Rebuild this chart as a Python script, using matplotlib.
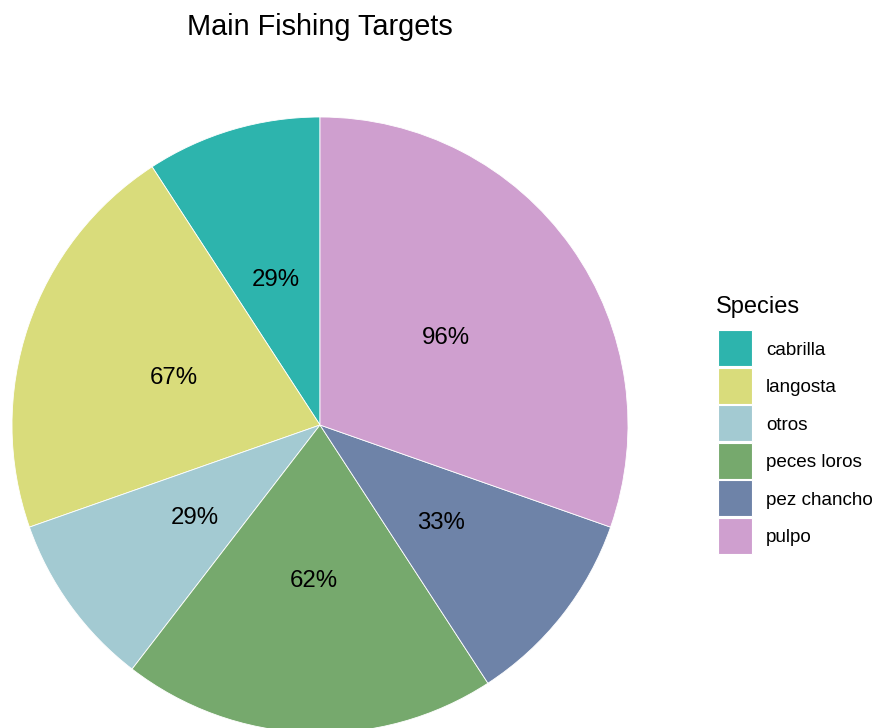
import matplotlib
matplotlib.use("Agg")
import matplotlib.pyplot as plt
from matplotlib.patches import Rectangle

species = ["cabrilla", "langosta", "otros", "peces loros", "pez chancho", "pulpo"]
percent = [29, 67, 29, 62, 33, 96]
colors = ["#2DB4AD", "#D9DC7B", "#A3CAD2", "#76A96D", "#6E83A8", "#CF9FCF"]

plt.rcParams["font.family"] = ["Liberation Sans", "DejaVu Sans"]

W, H = 876, 728
fig = plt.figure(figsize=(W / 100, H / 100), dpi=100)

# pie centre and radius in pixels
cx, cy, r = 320, 425, 308
ax = fig.add_axes([(cx - r) / W, (H - cy - r) / H, 2 * r / W, 2 * r / H])
wedges, texts = ax.pie(
    percent,
    colors=colors,
    startangle=90,
    counterclock=True,
    radius=1,
    labels=[f"{p}%" for p in percent],
    labeldistance=0.5,
    wedgeprops=dict(edgecolor="white", linewidth=0.6),
    textprops=dict(fontsize=17.3, color="black", ha="center", va="center_baseline"),
)
for w in wedges:
    w.set_clip_on(False)
ax.set_xlim(-1, 1)
ax.set_ylim(-1, 1)
ax.set_aspect("equal")
ax.axis("off")

fig.text(cx / W, 1 - 27 / H, "Main Fishing Targets", fontsize=20.8,
         ha="center", va="center", color="black")

# legend drawn in pixel coordinates
def px(x, y):
    return x / W, 1 - y / H

fig.text(*px(716, 307), "Species", fontsize=17, ha="left", va="center",
         color="black")
key_x0, key_w, key_h = 718, 34, 36
row0, step = 348, 37.6
for i, (name, col) in enumerate(zip(species, colors)):
    yc = row0 + i * step
    x0, y0 = px(key_x0, yc + key_h / 2)
    fig.add_artist(Rectangle((x0, y0), key_w / W, key_h / H,
                             transform=fig.transFigure, facecolor=col,
                             edgecolor="white", linewidth=0.8))
    fig.text(*px(766, yc), name, fontsize=13.6, ha="left",
             va="center_baseline", color="black")

fig.savefig("out.png", dpi=100, facecolor="white")
